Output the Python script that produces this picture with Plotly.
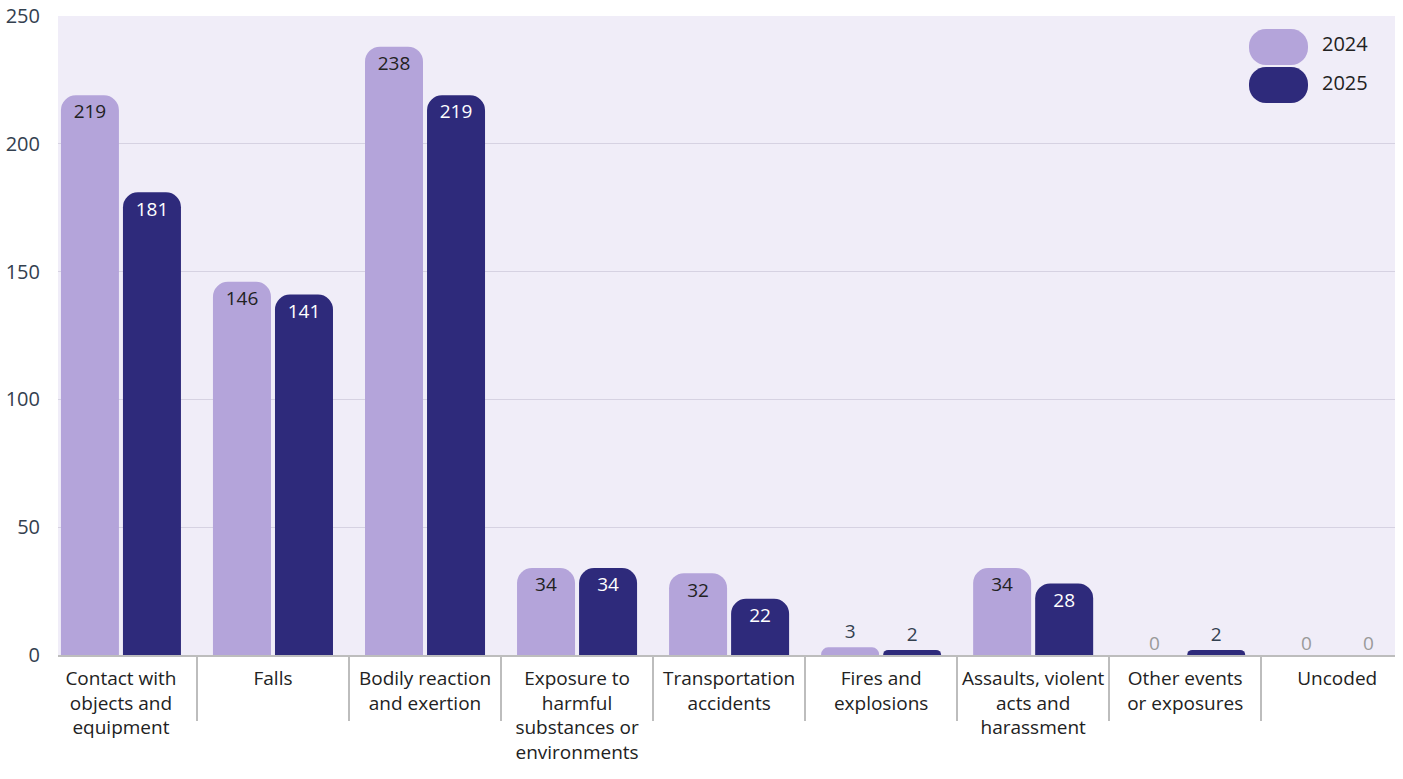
import plotly.graph_objects as go

categories = [
    "Contact with<br>objects and<br>equipment",
    "Falls",
    "Bodily reaction<br>and exertion",
    "Exposure to<br>harmful<br>substances or<br>environments",
    "Transportation<br>accidents",
    "Fires and<br>explosions",
    "Assaults, violent<br>acts and<br>harassment",
    "Other events<br>or exposures",
    "Uncoded",
]
values_2024 = [219, 146, 238, 34, 32, 3, 34, 0, 0]
values_2025 = [181, 141, 219, 34, 22, 2, 28, 2, 0]
series_names = ["2024", "2025"]
y_ticks = [0, 50, 100, 150, 200, 250]

LIGHT = "#B4A4DA"
DARK = "#2E2A7B"
FONT = "Open Sans"
ZERO_COL = "#9a9a9a"
OUT_COL = "#33404f"

BARGAP = 0.184
BARGROUPGAP = 0.065
X_RANGE = [-0.414, 8.38]

plot_l, plot_r, plot_t, plot_b = 58, 1395, 16, 655
pw, ph = plot_r - plot_l, plot_b - plot_t

fig = go.Figure()
series = [
    (series_names[0], values_2024, LIGHT, "#222222"),
    (series_names[1], values_2025, DARK, "#ffffff"),
]
for name, vals, color, inside_col in series:
    fig.add_trace(go.Bar(
        name=name,
        x=categories,
        y=vals,
        marker=dict(color=color, cornerradius=15, line=dict(width=0)),
        text=[str(v) for v in vals],
        textposition="auto",
        insidetextanchor="end",
        insidetextfont=dict(color=inside_col, size=19, family=FONT),
        outsidetextfont=dict(color=OUT_COL, size=19, family=FONT),
        textangle=0,
        cliponaxis=False,
        showlegend=False,
        hoverinfo="x+y+name",
    ))

# zero-valued bars get no text from plotly; label them at the bar slot
cat_px = pw / (X_RANGE[1] - X_RANGE[0])
slot_px = cat_px * (1 - BARGAP) / len(series)
for si, (name, vals, color, inside_col) in enumerate(series):
    shift = (si - (len(series) - 1) / 2) * slot_px
    for cat, v in zip(categories, vals):
        if v == 0:
            fig.add_annotation(x=cat, y=v, xref="x", yref="y", text=str(v),
                               showarrow=False, xshift=shift, yshift=-3,
                               xanchor="center", yanchor="bottom",
                               font=dict(size=19, color=ZERO_COL, family=FONT))

fig.update_layout(
    width=1403, height=779,
    margin=dict(l=plot_l, r=1403 - plot_r, t=plot_t, b=779 - plot_b, autoexpand=False),
    paper_bgcolor="#ffffff",
    plot_bgcolor="#F0EDF8",
    barmode="group",
    bargap=BARGAP,
    bargroupgap=BARGROUPGAP,
    font=dict(family=FONT, size=19, color="#222222"),
    xaxis=dict(
        type="category",
        range=X_RANGE,
        automargin=False,
        showline=True, linecolor="#bdbdbd", linewidth=2,
        ticks="outside", tickson="boundaries", ticklen=64,
        tickcolor="#bdbdbd", tickwidth=2,
        tickangle=0,
        ticklabelstandoff=5,
        tickfont=dict(size=19, color="#222222", family=FONT),
        showgrid=False,
        fixedrange=True,
    ),
    yaxis=dict(
        range=[0, 250],
        tickvals=y_ticks,
        automargin=False,
        showgrid=True, gridcolor="#D6D2E2", gridwidth=1,
        zeroline=False,
        showline=False,
        ticks="",
        ticklabelstandoff=17,
        tickfont=dict(size=20, color=OUT_COL, family=FONT),
    ),
)


def px2paper(x, y):
    return (x - plot_l) / pw, (plot_b - y) / ph


def pill_path(x0, y0, x1, y1, r):
    k = 0.5523 * r

    def P(x, y):
        px, py = px2paper(x, y)
        return f"{px:.5f},{py:.5f}"
    return (
        f"M {P(x0 + r, y0)} L {P(x1 - r, y0)} "
        f"C {P(x1 - r + k, y0)} {P(x1, y0 + r - k)} {P(x1, y0 + r)} "
        f"L {P(x1, y1 - r)} "
        f"C {P(x1, y1 - r + k)} {P(x1 - r + k, y1)} {P(x1 - r, y1)} "
        f"L {P(x0 + r, y1)} "
        f"C {P(x0 + r - k, y1)} {P(x0, y1 - r + k)} {P(x0, y1 - r)} "
        f"L {P(x0, y0 + r)} "
        f"C {P(x0, y0 + r - k)} {P(x0 + r - k, y0)} {P(x0 + r, y0)} Z"
    )


legend_items = [(series_names[0], LIGHT, 29, 65), (series_names[1], DARK, 67, 103)]
for name, color, ya, yb in legend_items:
    fig.add_shape(type="path", xref="paper", yref="paper",
                  path=pill_path(1249, ya, 1308, yb, 17),
                  fillcolor=color, line=dict(width=0), layer="above")
    lx, ly = px2paper(1320, (ya + yb) / 2 - 3)
    fig.add_annotation(x=lx, y=ly, xref="paper", yref="paper", text=name,
                       showarrow=False, xanchor="left", yanchor="middle",
                       font=dict(size=20, color="#222222", family=FONT))

fig.write_html("out.html")
